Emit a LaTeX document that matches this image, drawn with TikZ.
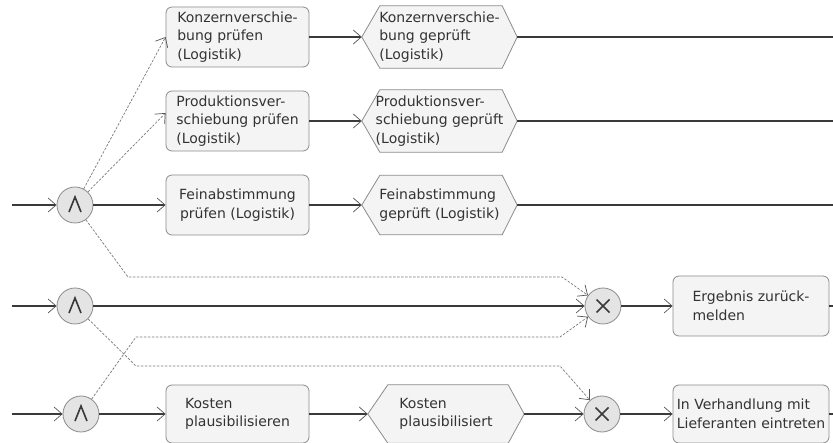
\documentclass[tikz,border=0pt]{standalone}
\usepackage{fontspec}
\setmainfont{DejaVu Sans}
\usetikzlibrary{arrows.meta,backgrounds}
\definecolor{linedark}{HTML}{3A3A3A}
\definecolor{linegrey}{HTML}{7A7A7A}
\definecolor{tipgrey}{HTML}{555555}
\definecolor{boxfill}{HTML}{F4F4F4}
\definecolor{boxedge}{HTML}{8C8C8C}
\definecolor{gatefill}{HTML}{E4E4E4}
\definecolor{textgrey}{HTML}{333333}
\begin{document}
\begin{tikzpicture}[x=1pt,y=-1pt,
  font=\fontsize{14}{18.5}\selectfont,
  funcbox/.style={draw=boxedge, fill=boxfill, rounded corners=6pt, line width=0.8pt,
    minimum width=143pt, minimum height=60pt, inner sep=0pt, align=left, text=textgrey},
  evbox/.style={minimum width=155pt, minimum height=62pt, inner sep=0pt, align=left, text=textgrey},
  hexline/.style={draw=boxedge, fill=boxfill, line width=0.8pt},
  gate/.style={circle, draw=boxedge, fill=gatefill, line width=0.8pt, minimum size=36pt, inner sep=0pt},
  andgate/.style={gate, path picture={
    \draw[linedark, line width=1.6pt]
      ([shift={(-6pt,-7pt)}]path picture bounding box.center) --
      ([shift={(0pt,8pt)}]path picture bounding box.center) --
      ([shift={(6pt,-7pt)}]path picture bounding box.center);}},
  xorgate/.style={gate, path picture={
    \draw[linedark, line width=1.6pt]
      ([shift={(-6.5pt,-6.5pt)}]path picture bounding box.center) --
      ([shift={(6.5pt,6.5pt)}]path picture bounding box.center)
      ([shift={(-6.5pt,6.5pt)}]path picture bounding box.center) --
      ([shift={(6.5pt,-6.5pt)}]path picture bounding box.center);}},
  tip/.style={-{Straight Barb[length=8pt,width=14pt,line width=0.7pt,color=tipgrey]}},
  flow/.style={draw=linedark, line width=1.1pt, tip},
  plain/.style={draw=linedark, line width=1.1pt},
  dflow/.style={draw=linegrey, line width=0.7pt, dash pattern=on 2.5pt off 1.5pt, tip}
]
\useasboundingbox (0,0) rectangle (833,443);

% gates
\node[andgate] (g1) at (75,205) {};
\node[andgate] (g2) at (75,306) {};
\node[andgate] (g3) at (81,414) {};
\node[xorgate] (x1) at (603,306) {};
\node[xorgate] (x2) at (602,414) {};

% functions
\node[funcbox] (b1) at (237.5,37) {Konzernverschie-\\bung prüfen\\(Logistik)};
\node[funcbox] (b2) at (237.5,121) {Produktionsver-\\schiebung prüfen\\(Logistik)};
\node[funcbox, align=center] (b3) at (237.5,205) {Feinabstimmung\\prüfen (Logistik)};
\node[funcbox, minimum width=156pt] (b4) at (751,306) {Ergebnis zurück-\\melden};
\node[funcbox, minimum width=156pt, minimum height=58pt] (b5) at (751,414) {In Verhandlung mit\\Lieferanten eintreten};
\node[funcbox, minimum height=58pt] (b6) at (237.5,414) {Kosten\\plausibilisieren};

% events (outline drawn on the background layer)
\node[evbox] (e1) at (439.5,37) {Konzernverschie-\\bung geprüft\\(Logistik)};
\node[evbox] (e2) at (439.5,121) {Produktionsver-\\schiebung geprüft\\(Logistik)};
\node[evbox, minimum height=59pt] (e3) at (439.5,205) {Feinabstimmung\\geprüft (Logistik)};
\node[evbox, minimum width=156pt, minimum height=58pt] (e6) at (446,414) {Kosten\\plausibilisiert};

\begin{scope}[on background layer]
  \fill[white] (0,0) rectangle (833,443);
  \foreach \e/\l/\r in {e1/18/15, e2/18/15, e3/18/15, e6/20/16}{
    \path[hexline] (\e.west) -- ([xshift=\l pt]\e.north west) -- ([xshift=-\r pt]\e.north east)
      -- (\e.east) -- ([xshift=-\r pt]\e.south east) -- ([xshift=\l pt]\e.south west) -- cycle;
  }
\end{scope}

% free ends
\coordinate (in1) at (12,205);
\coordinate (in2) at (12,306);
\coordinate (in3) at (12,414);
\coordinate (out1) at (833,37);
\coordinate (out2) at (833,121);
\coordinate (out3) at (833,205);
\coordinate (out4) at (833,306);
\coordinate (out5) at (833,414);

% bends of the dashed connectors
\coordinate (d3a) at (128,277);
\coordinate (d3b) at (562,277);
\coordinate (d4a) at (136,366);
\coordinate (d4b) at (560,366);
\coordinate (d5a) at (136,337);
\coordinate (d5b) at (560,337);

% control flow
\draw[flow] (in1) -- (g1);
\draw[flow] (g1) -- (b3);
\draw[flow] (b1) -- (e1);
\draw[flow] (b2) -- (e2);
\draw[flow] (b3) -- (e3);
\draw[plain] (e1) -- (out1);
\draw[plain] (e2) -- (out2);
\draw[plain] (e3) -- (out3);

\draw[flow] (in2) -- (g2);
\draw[flow] (g2) -- (x1);
\draw[flow] (x1) -- (b4);
\draw[plain] (b4) -- (out4);

\draw[flow] (in3) -- (g3);
\draw[flow] (g3) -- (b6);
\draw[flow] (b6) -- (e6);
\draw[flow] (e6) -- (x2);
\draw[flow] (x2) -- (b5);
\draw[plain] (b5) -- (out5);

% dashed flows
\draw[dflow] (g1) -- (b1.west);
\draw[dflow] (g1) -- ([yshift=8pt]b2.west);
\draw[dflow] (g1) -- (d3a) -- (d3b) -- (x1);
\draw[dflow] (g2) -- (d4a) -- (d4b) -- (x2);
\draw[dflow] (g3) -- (d5a) -- (d5b) -- (x1);
\end{tikzpicture}
\end{document}
